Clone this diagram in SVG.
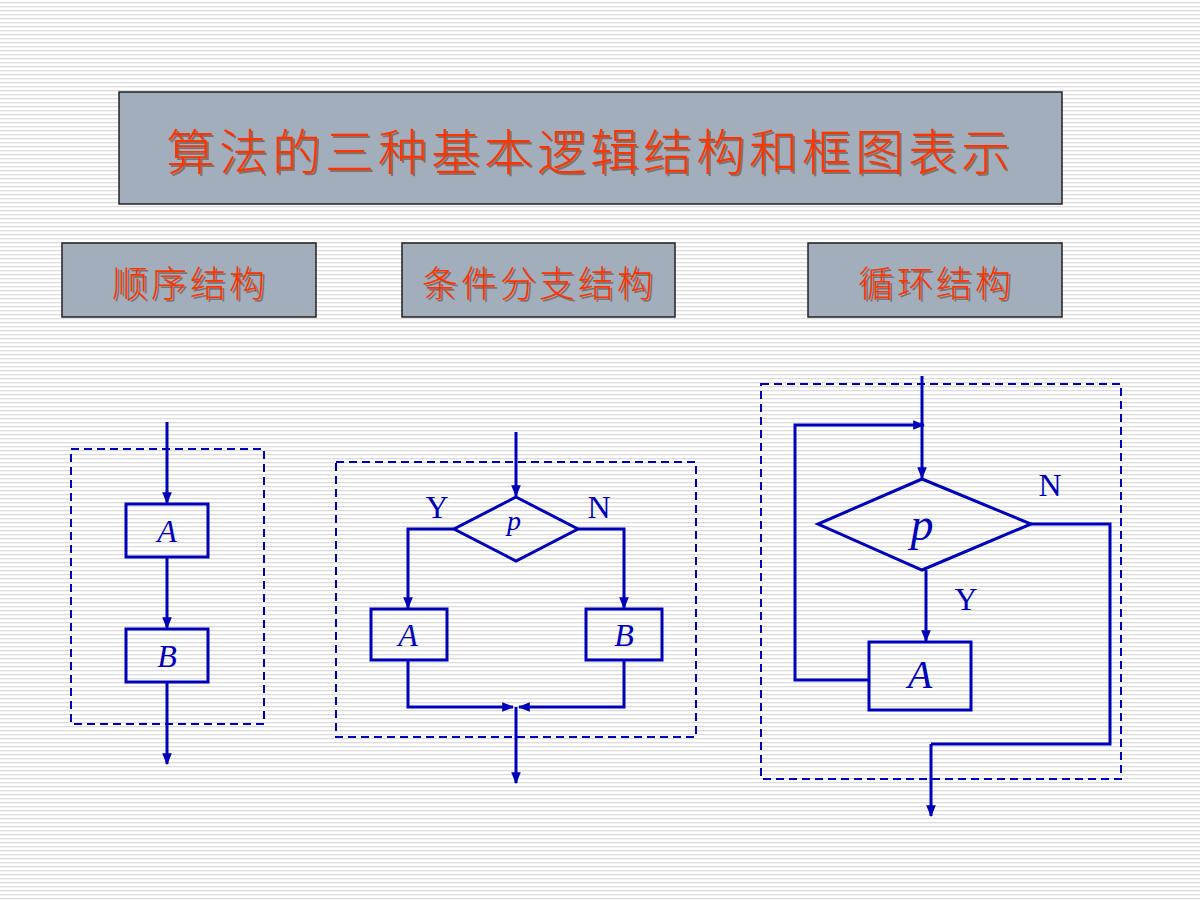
<svg xmlns="http://www.w3.org/2000/svg" width="1200" height="900" viewBox="0 0 1200 900">
<defs>
<pattern id="stripes" width="8" height="4" patternUnits="userSpaceOnUse"><rect width="8" height="4" fill="#ffffff"/><rect y="2" width="8" height="1.3" fill="#dcdcdc"/></pattern>
<marker id="ah" viewBox="0 0 10 10" refX="9" refY="5" markerWidth="12" markerHeight="12" orient="auto" markerUnits="userSpaceOnUse"><path d="M0,1 L10,5 L0,9 z" fill="#0000bb"/></marker>
</defs>
<style>
.hdr{fill:#a2aebb;stroke:#222;stroke-width:1.5}
.ht{font-family:"Noto Sans CJK SC",sans-serif;font-weight:300;fill:#ff3300;text-anchor:middle}
.sh{fill:#5a2a10;opacity:0.45}
.n{fill:none;stroke:#0000bb;stroke-width:3}
.d{fill:none;stroke:#0000bb;stroke-width:2;stroke-dasharray:8,5}
.c{fill:none;stroke:#0000bb;stroke-width:3;marker-end:url(#ah)}
.l{fill:none;stroke:#0000bb;stroke-width:3}
.it{font-family:"Liberation Serif",serif;font-style:italic;fill:#0000bb;text-anchor:middle}
.lb{font-family:"Liberation Serif",serif;fill:#0000bb;text-anchor:middle}
</style>
<rect width="1200" height="900" fill="url(#stripes)"/>
<g id="title"><rect class="hdr" x="119" y="92" width="943" height="112"/>
<text class="ht sh" x="592" y="172" font-size="49" letter-spacing="4">算法的三种基本逻辑结构和框图表示</text>
<text class="ht" x="590" y="170" font-size="49" letter-spacing="4">算法的三种基本逻辑结构和框图表示</text></g>
<g id="h1"><rect class="hdr" x="62" y="243" width="254" height="74"/><text class="ht sh" x="192" y="299" font-size="36" letter-spacing="3">顺序结构</text><text class="ht" x="190" y="297" font-size="36" letter-spacing="3">顺序结构</text></g>
<g id="h2"><rect class="hdr" x="402" y="243" width="273" height="74"/><text class="ht sh" x="541" y="299" font-size="36" letter-spacing="3">条件分支结构</text><text class="ht" x="539" y="297" font-size="36" letter-spacing="3">条件分支结构</text></g>
<g id="h3"><rect class="hdr" x="808" y="243" width="254" height="74"/><text class="ht sh" x="938" y="299" font-size="36" letter-spacing="3">循环结构</text><text class="ht" x="936" y="297" font-size="36" letter-spacing="3">循环结构</text></g>
<g id="frames"><rect class="d" x="71" y="449" width="193" height="275"/><rect class="d" x="336" y="462" width="360" height="275"/><rect class="d" x="761" y="384" width="360" height="395"/></g>
<g id="seqA"><rect class="n" x="126" y="504" width="82" height="53"/><text class="it" x="167" y="542" font-size="32">A</text></g>
<g id="seqB"><rect class="n" x="126" y="629" width="82" height="53"/><text class="it" x="167" y="667" font-size="32">B</text></g>
<g id="brP"><polygon class="n" points="516,497 578,529 516,561 454,529"/><text class="it" x="514" y="530" font-size="28">p</text></g>
<g id="brA"><rect class="n" x="371" y="609" width="76" height="51"/><text class="it" x="408" y="646" font-size="32">A</text></g>
<g id="brB"><rect class="n" x="586" y="609" width="76" height="51"/><text class="it" x="624" y="646" font-size="32">B</text></g>
<g id="lpP"><polygon class="n" points="922,479 1031,524 922,570 818,524"/><text class="it" x="922" y="540" font-size="46">p</text></g>
<g id="lpA"><rect class="n" x="869" y="642" width="102" height="68"/><text class="it" x="920" y="688" font-size="40">A</text></g>
<g id="labels">
<text class="lb" x="437" y="518" font-size="32">Y</text>
<text class="lb" x="599" y="518" font-size="32">N</text>
<text class="lb" x="1050" y="496" font-size="32">N</text>
<text class="lb" x="966" y="610" font-size="32">Y</text>
</g>
<g id="connectors">
<path class="c" d="M167,422 V503"/>
<path class="c" d="M167,557 V628"/>
<path class="c" d="M167,682 V764"/>
<path class="c" d="M516,432 V496"/>
<path class="c" d="M454,529 H408 V608"/>
<path class="c" d="M578,529 H624 V608"/>
<path class="c" d="M408,660 V707 H513"/>
<path class="c" d="M624,660 V707 H519"/>
<path class="c" d="M516,707 V783"/>
<path class="c" d="M922,376 V478"/>
<path class="c" d="M869,680 H795 V425 H924"/>
<path class="c" d="M926,570 V641"/>
<path class="l" d="M1031,524 H1110 V744 H931"/>
<path class="c" d="M931,744 V816"/>
</g>
</svg>
